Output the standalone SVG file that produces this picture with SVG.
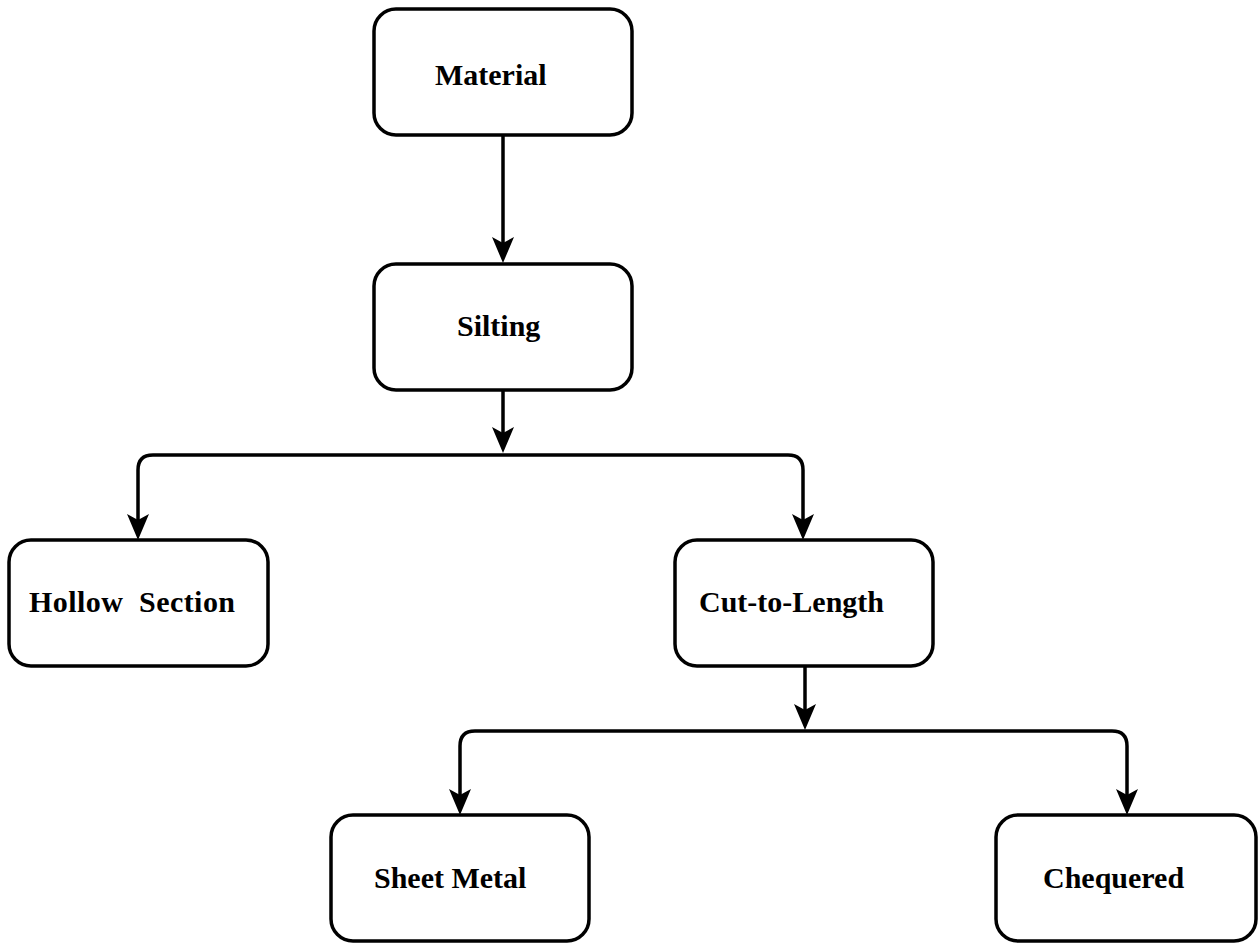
<svg xmlns="http://www.w3.org/2000/svg" width="1260" height="943" viewBox="0 0 1260 943">
  <style>
    .box { fill: #fff; stroke: #000; stroke-width: 3.5; }
    .lbl { font-family: "Liberation Serif", "Times New Roman", serif; font-weight: bold; font-size: 30px; fill: #000; }
    .wire { fill: none; stroke: #000; stroke-width: 3.5; }
    .head { fill: #000; }
  </style>
  <defs>
    <!-- downward arrowhead, tip at the origin -->
    <path id="head" class="head" d="M-11,-26 L0,-20 L11,-26 L0,0 Z"/>
  </defs>
  <rect width="1260" height="943" fill="#fff"/>

  <g id="connectors">
    <path class="wire" d="M503,136 V248"/>
    <use href="#head" x="503" y="263"/>
    <path class="wire" d="M503,391 V438"/>
    <use href="#head" x="503" y="453"/>
    <path class="wire" d="M503,455 H153 Q138,455 138,470 V526"/>
    <path class="wire" d="M503,455 H788 Q803,455 803,470 V526"/>
    <use href="#head" x="138" y="540"/>
    <use href="#head" x="803" y="540"/>
    <path class="wire" d="M805,667 V716"/>
    <use href="#head" x="805" y="730"/>
    <path class="wire" d="M805,731 H475 Q460,731 460,746 V801"/>
    <path class="wire" d="M805,731 H1112 Q1127,731 1127,746 V801"/>
    <use href="#head" x="460" y="815"/>
    <use href="#head" x="1127" y="815"/>
  </g>

  <g id="material">
    <rect class="box" x="374" y="9" width="258" height="126" rx="22"/>
    <text class="lbl" x="435" y="85">Material</text>
  </g>
  <g id="silting">
    <rect class="box" x="374" y="264" width="258" height="126" rx="22"/>
    <text class="lbl" x="457" y="336">Silting</text>
  </g>
  <g id="hollow-section">
    <rect class="box" x="9" y="540" width="259" height="126" rx="22"/>
    <text class="lbl" x="29" y="612" textLength="206" lengthAdjust="spacing" xml:space="preserve">Hollow  Section</text>
  </g>
  <g id="cut-to-length">
    <rect class="box" x="675" y="540" width="258" height="126" rx="22"/>
    <text class="lbl" x="699" y="612">Cut-to-Length</text>
  </g>
  <g id="sheet-metal">
    <rect class="box" x="331" y="815" width="258" height="126" rx="22"/>
    <text class="lbl" x="374" y="888">Sheet Metal</text>
  </g>
  <g id="chequered">
    <rect class="box" x="996" y="815" width="260" height="126" rx="22"/>
    <text class="lbl" x="1043" y="888">Chequered</text>
  </g>
</svg>
